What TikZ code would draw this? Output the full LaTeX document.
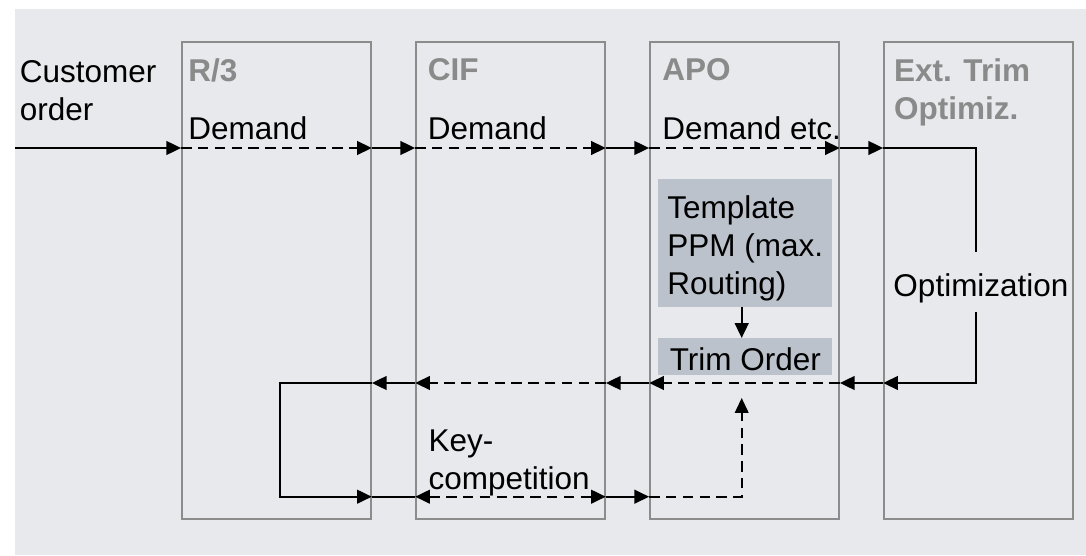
\documentclass[tikz,border=0pt]{standalone}
\usepackage{fontspec}
\setmainfont{Liberation Sans}
\usetikzlibrary{arrows.meta}
\definecolor{bggray}{HTML}{E8E9ED}
\definecolor{framegray}{HTML}{8C8C8C}
\definecolor{titlegray}{HTML}{8A8A8A}
\definecolor{ppmfill}{HTML}{BBC2CB}

\begin{document}
\begin{tikzpicture}[
  >={Triangle[length=0.37cm,width=0.34cm]},
  sys/.style={rectangle,draw=framegray,line width=1.2pt,minimum width=4.725cm,minimum height=11.925cm,inner sep=0pt},
  systitle/.style={anchor=north west,inner sep=0pt,align=left,text=titlegray,font=\fontsize{22.4}{27}\selectfont\bfseries},
  lbl/.style={inner sep=0pt,font=\fontsize{22.4}{27}\selectfont},
  ppm/.style={rectangle,fill=ppmfill,inner sep=0pt,minimum width=4.35cm,align=left,font=\fontsize{22.4}{27}\selectfont},
  flow/.style={line width=1.7pt,->},
  fdash/.style={flow,dash pattern=on 0.26cm off 0.16cm},
  plain/.style={line width=1.6pt},
  thinline/.style={line width=1.2pt}
]

\useasboundingbox (0,0) rectangle (27.15,13.875);
\fill[bggray] (0.375,0) rectangle (27.15,13.65);

% the four systems
\foreach \n/\i in {r3/0,cif/1,apo/2,ext/3}{
  \pgfmathsetmacro{\xn}{4.55+\i*5.85+2.3625}
  \node[sys] (\n) at (\xn,6.8625) {};
}
\node[systitle] (r3-t) at (4.7,12.42) {R/3};
\node[systitle] (cif-t) at (10.69,12.42) {CIF};
\node[systitle] (apo-t) at (16.55,12.42) {APO};
\node[systitle] (ext-t) at (22.345,12.42) {Ext. Trim\\Optimiz.};

\node[lbl,anchor=north west,align=left] (cust) at (0.49,12.375) {Customer\\order};
\node[lbl,anchor=base west] (dem-r3) at (4.7,10.375) {Demand};
\node[lbl,anchor=base west] (dem-cif) at (10.69,10.375) {Demand};
\node[lbl,anchor=base west] (dem-apo) at (16.55,10.375) {Demand etc.};
\node[lbl,anchor=north west,align=left] (key) at (10.71,3.125) {Key-\\competition};

\node[ppm,minimum height=3.1925cm] (tmpl) at (18.6325,7.80375) {\rule{0pt}{0.85cm}Template\\PPM (max.\\Routing)};
\node[ppm,text height=0.7cm,text depth=0.0325cm,minimum height=0.9175cm] (trim) at (18.6325,4.95875) {Trim Order};
\node[lbl,anchor=base,text height=1.1cm,text depth=0.375cm] (opt) at (24.525,6.4575) {Optimization};

\coordinate (top) at (0.375,10.175);
\coordinate (back) at (7.0,4.3);
\coordinate (bot) at (0,1.4575);
\coordinate (turn) at (24.4,0);
\coordinate (mid) at (18.5425,3.925);

% demand flow
\draw[flow] (top) -- (top -| r3.west);
\foreach \n in {r3,cif,apo}{
  \draw[fdash] (top -| \n.west) -- (top -| \n.east);
}
\foreach \a/\b in {r3/cif,cif/apo,apo/ext}{
  \draw[flow] (top -| \a.east) -- (top -| \b.west);
}
\draw[plain] (top -| ext.west) -| (opt.north -| turn);
\draw[flow] (opt.south -| turn) |- (back -| ext.west);

% trim order back
\foreach \a/\b in {ext/apo,apo/cif,cif/r3}{
  \draw[flow] (back -| \a.west) -- (back -| \b.east);
}
\foreach \n in {apo,cif}{
  \draw[fdash] (back -| \n.east) -- (back -| \n.west);
}
\draw[flow] (back -| r3.east) -- (back) |- (bot -| r3.east);

% key competition
\draw[thinline] (bot -| r3.east) -- (bot -| cif.west);
\path[fdash,<->] (bot -| cif.west) edge (bot -| cif.east);
\draw[flow] (bot -| cif.east) -- (bot -| apo.west);
\draw[thinline,->,dash pattern=on 0.26cm off 0.16cm] (bot -| apo.west) -| (mid);
\draw[flow] (tmpl.south -| mid) -- (trim.north -| mid);

\end{tikzpicture}
\end{document}
